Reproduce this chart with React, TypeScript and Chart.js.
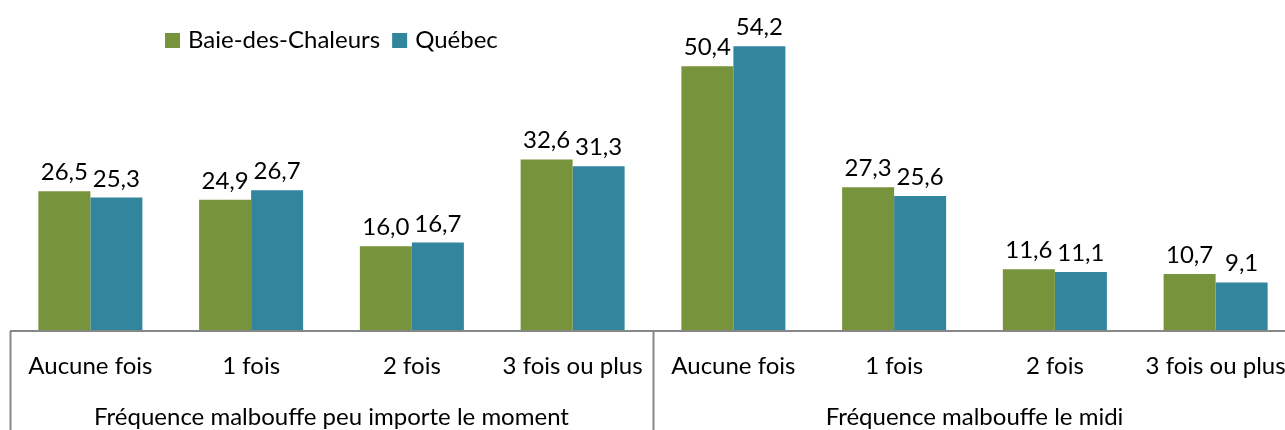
import React, { useEffect, useRef } from "react";
import { Chart, registerables } from "chart.js";

Chart.register(...registerables);

const categories = [
  "Aucune fois",
  "1 fois",
  "2 fois",
  "3 fois ou plus",
  "Aucune fois",
  "1 fois",
  "2 fois",
  "3 fois ou plus",
];
const groupLabels = [
  "Fréquence malbouffe peu importe le moment",
  "Fréquence malbouffe le midi",
];
const groupSize = 4;
const seriesNames = ["Baie-des-Chaleurs", "Québec"];
const baieValues = [26.5, 24.9, 16.0, 32.6, 50.4, 27.3, 11.6, 10.7];
const quebecValues = [25.3, 26.7, 16.7, 31.3, 54.2, 25.6, 11.1, 9.1];
const seriesColors = ["#77933C", "#31859C"];

const FONT_FAMILY = "Lato, 'Open Sans', sans-serif";
const FONT_SIZE = 24;
const LINE_COLOR = "#878787";
const PLOT_LEFT = 10;
const PLOT_RIGHT = 1296;

const fmt = (v: number) => v.toFixed(1).replace(".", ",");

const stretchPlugin = {
  id: "stretch",
  afterLayout(chart: any) {
    const xs = chart.scales.x;
    chart.chartArea.left = PLOT_LEFT;
    chart.chartArea.right = PLOT_RIGHT;
    chart.chartArea.width = PLOT_RIGHT - PLOT_LEFT;
    xs.left = PLOT_LEFT;
    xs.right = PLOT_RIGHT;
    xs.width = PLOT_RIGHT - PLOT_LEFT;
    xs.configure();
  },
};

const overlayPlugin = {
  id: "overlay",
  afterDatasetsDraw(chart: any) {
    const ctx = chart.ctx;
    ctx.save();
    ctx.font = `${FONT_SIZE}px ${FONT_FAMILY}`;
    ctx.fillStyle = "#000";
    ctx.textAlign = "center";
    ctx.textBaseline = "alphabetic";
    chart.data.datasets.forEach((ds: any, di: number) => {
      const meta = chart.getDatasetMeta(di);
      meta.data.forEach((bar: any, i: number) => {
        ctx.fillText(fmt(ds.data[i]), bar.x, bar.y - 11);
      });
    });
    ctx.restore();
  },
  afterDraw(chart: any) {
    const ctx = chart.ctx;
    const area = chart.chartArea;
    const xs = chart.scales.x;
    const bottom = chart.height;
    ctx.save();
    ctx.strokeStyle = LINE_COLOR;
    ctx.lineWidth = 2;
    // axis line
    ctx.beginPath();
    ctx.moveTo(area.left, area.bottom + 1);
    ctx.lineTo(Math.max(area.right, chart.width), area.bottom + 1);
    ctx.stroke();
    // group separators
    const half = (xs.getPixelForValue(1) - xs.getPixelForValue(0)) / 2;
    const seps: number[] = [];
    for (let g = 0; g <= groupLabels.length; g++) {
      const idx = g * groupSize;
      if (idx < categories.length) seps.push(xs.getPixelForValue(idx) - half);
      else seps.push(xs.getPixelForValue(categories.length - 1) + half);
    }
    seps.forEach((x) => {
      ctx.beginPath();
      ctx.moveTo(Math.round(x) + 0.5, area.bottom + 1);
      ctx.lineTo(Math.round(x) + 0.5, bottom);
      ctx.stroke();
    });
    // group labels
    ctx.font = `${FONT_SIZE}px ${FONT_FAMILY}`;
    ctx.fillStyle = "#000";
    ctx.textAlign = "center";
    ctx.textBaseline = "alphabetic";
    groupLabels.forEach((lbl, g) => {
      const a = xs.getPixelForValue(g * groupSize);
      const b = xs.getPixelForValue(g * groupSize + groupSize - 1);
      ctx.fillText(lbl, (a + b) / 2, 425);
    });
    // legend
    let lx = 165;
    const boxSize = 15;
    ctx.textAlign = "left";
    chart.data.datasets.forEach((ds: any) => {
      ctx.fillStyle = ds.backgroundColor;
      ctx.fillRect(lx, 33, boxSize, boxSize);
      lx += boxSize + 8;
      ctx.fillStyle = "#000";
      ctx.fillText(ds.label, lx, 48);
      lx += ctx.measureText(ds.label).width + 12;
    });
    ctx.restore();
  },
};

export default function App() {
  const ref = useRef<HTMLCanvasElement | null>(null);
  useEffect(() => {
    document.body.style.margin = "0";
    document.body.style.overflow = "hidden";
    const canvas = ref.current;
    if (!canvas) return;
    const chart = new Chart(canvas, {
      type: "bar",
      data: {
        labels: categories,
        datasets: [
          {
            label: seriesNames[0],
            data: baieValues,
            backgroundColor: seriesColors[0],
            borderWidth: 0,
            categoryPercentage: 0.647,
            barPercentage: 1,
          },
          {
            label: seriesNames[1],
            data: quebecValues,
            backgroundColor: seriesColors[1],
            borderWidth: 0,
            categoryPercentage: 0.647,
            barPercentage: 1,
          },
        ],
      },
      options: {
        responsive: false,
        maintainAspectRatio: false,
        animation: false,
        devicePixelRatio: 1,
        layout: { padding: { left: PLOT_LEFT, right: 0, top: 16, bottom: 0 } },
        plugins: {
          legend: { display: false },
          tooltip: { enabled: false },
        },
        scales: {
          y: {
            display: false,
            min: 0,
            max: 60,
          },
          x: {
            grid: { display: false, drawTicks: false },
            border: { display: false },
            ticks: {
              color: "#000",
              font: { family: FONT_FAMILY, size: FONT_SIZE },
              padding: 22,
              maxRotation: 0,
              autoSkip: false,
            },
            afterFit: (s: any) => {
              s.height = 100;
            },
          },
        },
      },
      plugins: [stretchPlugin, overlayPlugin],
    });
    return () => chart.destroy();
  }, []);
  return (
    <div style={{ width: 1285, height: 430, overflow: "hidden", position: "relative", background: "#fff" }}>
      <canvas
        ref={ref}
        width={1285}
        height={430}
        style={{ display: "block", width: 1285, height: 430 }}
      />
    </div>
  );
}
